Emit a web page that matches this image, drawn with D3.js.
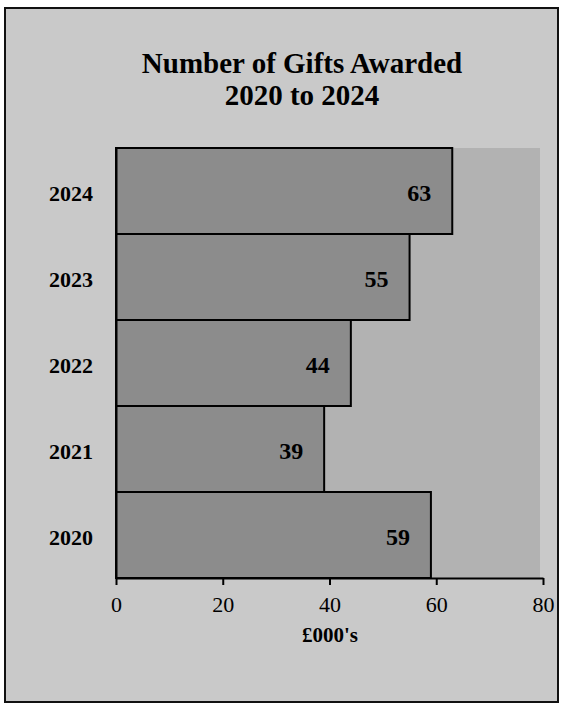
<!DOCTYPE html>
<html>
<head>
<meta charset="utf-8">
<script src="https://cdn.jsdelivr.net/npm/d3@7/dist/d3.min.js"></script>
<style>
  html, body { margin: 0; padding: 0; background: #ffffff; }
  svg { display: block; }
</style>
</head>
<body>
<script>
const titleLines = ["Number of Gifts Awarded", "2020 to 2024"];
const years = ["2024", "2023", "2022", "2021", "2020"];
const gifts = [63, 55, 44, 39, 59];
const xTicks = [0, 20, 40, 60, 80];
const xAxisLabel = "£000's";

const W = 563, H = 706;
const serif = "'Liberation Serif', 'Times New Roman', serif";

const svg = d3.select("body").append("svg")
  .attr("width", W).attr("height", H);

// outer frame
svg.append("rect")
  .attr("x", 5).attr("y", 8).attr("width", 553).attr("height", 694)
  .attr("fill", "#c9c9c9").attr("stroke", "#111").attr("stroke-width", 2);

const x = d3.scaleLinear().domain([0, 80]).range([116, 543]);
const y = d3.scaleBand().domain(years).range([148, 578]).padding(0);

// plot area background
svg.append("rect")
  .attr("x", x(0)).attr("y", y.range()[0])
  .attr("width", x(80) - x(0) - 3).attr("height", y.range()[1] - y.range()[0])
  .attr("fill", "#b2b2b2");

// title
const title = svg.append("text")
  .attr("text-anchor", "middle")
  .attr("font-family", serif).attr("font-weight", "bold")
  .attr("font-size", 29).attr("fill", "#000");
title.selectAll("tspan").data(titleLines).join("tspan")
  .attr("x", 302)
  .attr("y", (d, i) => 73 + i * 32)
  .text(d => d);

const data = years.map((yr, i) => ({ year: yr, value: gifts[i] }));

// bars
svg.append("g").selectAll("rect").data(data).join("rect")
  .attr("x", x(0))
  .attr("y", d => y(d.year))
  .attr("width", d => x(d.value) - x(0))
  .attr("height", y.bandwidth())
  .attr("fill", "#8c8c8c")
  .attr("stroke", "#000").attr("stroke-width", 2);

// value labels
svg.append("g").selectAll("text").data(data).join("text")
  .attr("x", d => x(d.value) - 21)
  .attr("y", d => y(d.year) + y.bandwidth() / 2 + 10)
  .attr("text-anchor", "end")
  .attr("font-family", serif).attr("font-weight", "bold")
  .attr("font-size", 24).attr("fill", "#000")
  .text(d => d.value);

// x axis
const xAxis = svg.append("g")
  .attr("transform", `translate(0,${y.range()[1]})`)
  .call(d3.axisBottom(x).tickValues(xTicks).tickSize(7).tickPadding(11).tickSizeOuter(0));
xAxis.select(".domain").attr("stroke", "#000").attr("stroke-width", 2);
xAxis.selectAll(".tick line").attr("stroke", "#000").attr("stroke-width", 2);
xAxis.selectAll(".tick text")
  .attr("font-family", serif).attr("font-size", 22).attr("fill", "#000");

// y axis
const yAxis = svg.append("g")
  .attr("transform", `translate(${x(0)},0)`)
  .call(d3.axisLeft(y).tickSize(0).tickPadding(23));
yAxis.select(".domain").attr("stroke", "#000").attr("stroke-width", 2);
yAxis.selectAll(".tick text")
  .attr("dy", "0.45em")
  .attr("font-family", serif).attr("font-weight", "bold")
  .attr("font-size", 22).attr("fill", "#000");

// x axis title
svg.append("text")
  .attr("x", 330).attr("y", 642)
  .attr("text-anchor", "middle")
  .attr("font-family", serif).attr("font-weight", "bold")
  .attr("font-size", 21).attr("fill", "#000")
  .text(xAxisLabel);
</script>
</body>
</html>
